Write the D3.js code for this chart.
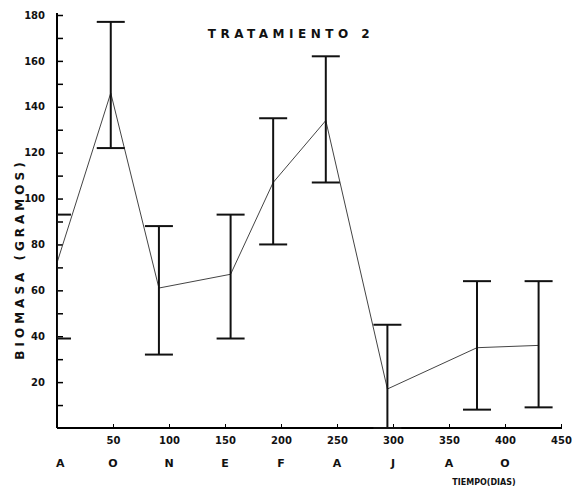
<!DOCTYPE html>
<html>
<head>
<meta charset="utf-8">
<script src="https://cdn.jsdelivr.net/npm/d3@7/dist/d3.min.js"></script>
<style>
  body { margin: 0; background: #fff; }
  text { font-family: "DejaVu Sans", sans-serif; font-weight: bold; fill: #111; }
</style>
</head>
<body>
<svg id="chart" width="572" height="489"></svg>
<script>
'use strict';

// values
var days   = [0, 48, 91, 155, 193, 240, 295, 375, 430];
var means  = [72, 146, 61, 67, 107, 134, 17, 35, 36];
var upper  = [93, 177, 88, 93, 135, 162, 45, 64, 64];
var lower  = [39, 122, 32, 39, 80, 107, 0, 8, 9];
var months = ['A', 'O', 'N', 'E', 'F', 'A', 'J', 'A', 'O'];
var monthDays = [3, 50, 100, 150, 200, 250, 300, 350, 400];
var xTicks = [50, 100, 150, 200, 250, 300, 350, 400, 450];
var yTicks = d3.range(10, 181, 10);

var svg = d3.select('#chart');

var x = d3.scaleLinear().domain([0, 450]).range([57, 561]);
var y = d3.scaleLinear().domain([0, 180]).range([428, 15]);

// clip so the first error bar only shows right of the axis
svg.append('clipPath').attr('id', 'plot')
  .append('rect').attr('x', 57).attr('y', 0).attr('width', 515).attr('height', 430);

// y axis, ticks inward
var yAxis = svg.append('g')
    .attr('transform', 'translate(' + x(0) + ',0)')
    .call(d3.axisLeft(y).tickValues(yTicks).tickSize(-6).tickPadding(12)
      .tickFormat(function (d) { return d % 20 === 0 ? d : ''; }));
yAxis.select('.domain').attr('d', 'M0,13V428').attr('stroke-width', 2);
yAxis.selectAll('.tick line').attr('stroke-width', 1.5);
yAxis.selectAll('text').style('font-size', '10px');

// x axis, ticks inward
var xAxis = svg.append('g')
    .attr('transform', 'translate(0,' + y(0) + ')')
    .call(d3.axisBottom(x).tickValues(xTicks).tickSize(-4).tickPadding(9));
xAxis.select('.domain').attr('d', 'M57,0H562').attr('stroke-width', 2);
xAxis.selectAll('text').style('font-size', '10px');

// month letters
svg.append('g').selectAll('text')
    .data(months)
  .enter().append('text')
    .attr('x', function (d, i) { return x(monthDays[i]); })
    .attr('y', 467)
    .attr('text-anchor', 'middle')
    .style('font-size', '11px')
    .text(function (d) { return d; });

var plot = svg.append('g').attr('clip-path', 'url(#plot)');

// mean line
var line = d3.line()
    .x(function (d, i) { return x(days[i]); })
    .y(function (d) { return y(d); });
plot.append('path')
    .datum(means)
    .attr('d', line)
    .attr('fill', 'none')
    .attr('stroke', '#444')
    .attr('stroke-width', 1);

// error bars
var bars = plot.selectAll('.bar')
    .data(days)
  .enter().append('g')
    .attr('class', 'bar')
    .attr('stroke', '#111')
    .attr('stroke-width', 2);
bars.append('line')
    .attr('x1', function (d) { return x(d); })
    .attr('x2', function (d) { return x(d); })
    .attr('y1', function (d, i) { return y(upper[i]); })
    .attr('y2', function (d, i) { return y(lower[i]); });
bars.append('line')
    .attr('x1', function (d) { return x(d) - 14; })
    .attr('x2', function (d) { return x(d) + 14; })
    .attr('y1', function (d, i) { return y(upper[i]); })
    .attr('y2', function (d, i) { return y(upper[i]); });
bars.append('line')
    .attr('x1', function (d) { return x(d) - 14; })
    .attr('x2', function (d) { return x(d) + 14; })
    .attr('y1', function (d, i) { return y(lower[i]); })
    .attr('y2', function (d, i) { return y(lower[i]); });

// titles
svg.append('text')
    .attr('x', 291).attr('y', 38)
    .attr('text-anchor', 'middle')
    .style('font-size', '12px')
    .style('letter-spacing', '4.5px')
    .text('TRATAMIENTO  2');

svg.append('text')
    .attr('transform', 'translate(24,259) rotate(-90)')
    .attr('text-anchor', 'middle')
    .style('font-size', '12px')
    .style('letter-spacing', '4px')
    .text('BIOMASA  (GRAMOS)');

svg.append('text')
    .attr('x', 484).attr('y', 485)
    .attr('text-anchor', 'middle')
    .style('font-size', '8px')
    .text('TIEMPO(DIAS)');
</script>
</body>
</html>
